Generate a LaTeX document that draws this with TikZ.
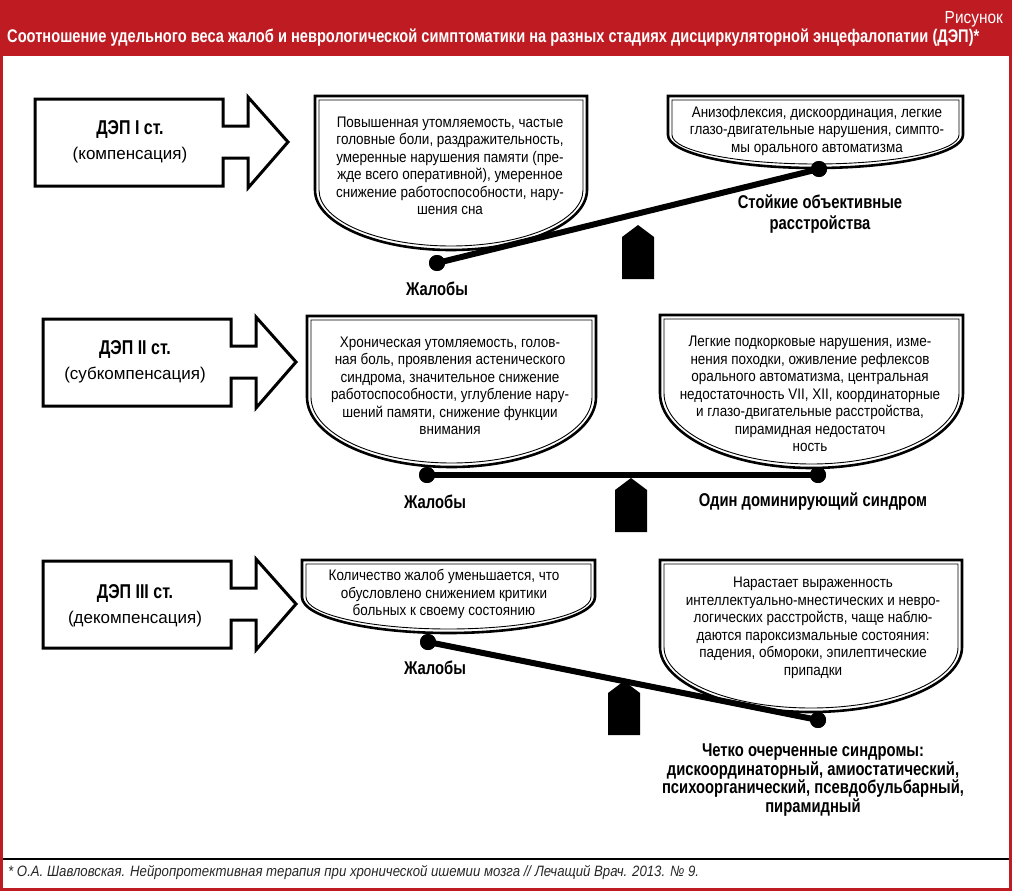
\documentclass[tikz,border=0pt]{standalone}
\usepackage{fontspec}
\setmainfont{Liberation Sans}
\newfontfamily\condbold[FakeStretch=0.8]{Liberation Sans Bold}
\newfontfamily\condreg[FakeStretch=0.88]{Liberation Sans}
\newfontfamily\condital[FakeStretch=0.88]{Liberation Sans Italic}
\usepackage{tikz}
\usetikzlibrary{positioning}
\definecolor{headred}{RGB}{190,28,34}

% bowl with a double outline: #1 left, #2 right, #3 top, #4 end of sides, #5 bottom
\newcommand{\bowlshape}[5]{%
  \draw[bowlouter] (#1,#3) -- (#2,#3) -- (#2,#4)
    arc[start angle=0, end angle=180, x radius={(#2-#1)/2}, y radius={#5-#4}] -- cycle;
  \draw[bowlinner] ({#1+4},{#3+4}) -- ({#2-4},{#3+4}) -- ({#2-4},#4)
    arc[start angle=0, end angle=180, x radius={(#2-#1)/2-4}, y radius={#5-#4-4}] -- cycle;
}
% fulcrum under a beam: #1 centre x, #2 peak y
\newcommand{\fulcrum}[2]{%
  \fill ({#1-16},{#2+54}) -- ({#1-16},{#2+12}) -- (#1,#2) -- ({#1+16},{#2+12}) -- ({#1+16},{#2+54}) -- cycle;
}
% block arrow for a stage: #1 left x, #2 top y
\newcommand{\stagearrow}[2]{%
  \draw[stageline] (#1,#2) -- ++(188,0) -- ++(0,27) -- ++(25,0) -- ++(0,-29) -- ++(40,45)
    -- ++(-40,46) -- ++(0,-30) -- ++(-25,0) -- ++(0,28) -- ++(-188,0) -- cycle;
}

\begin{document}
\begin{tikzpicture}[x=1pt, y=-1pt,
    bowlouter/.style={draw, fill=white, line width=2.6pt},
    bowlinner/.style={draw, line width=0.9pt},
    stageline/.style={draw, fill=white, line width=3pt, line join=miter},
    beam/.style={line width=6pt},
    dot/.style={circle, fill, inner sep=0pt, minimum size=16pt},
    symptoms/.style={align=center, inner sep=0pt, font=\condreg\fontsize{15.3}{17.5}\selectfont},
    stagelbl/.style={align=center, inner sep=0pt, font=\fontsize{17}{25}\selectfont},
    weightlbl/.style={align=center, inner sep=0pt, font=\condbold\fontsize{18.5}{18.5}\selectfont}
]
\useasboundingbox (0,0) rectangle (1012,891);

% header and frame
\fill[headred] (0,0) rectangle (1012,56);
\draw[headred, line width=3pt] (1.5,56) -- (1.5,889.5) -- (1010.5,889.5) -- (1010.5,56);
\node[anchor=east, text=white, inner sep=0pt, font=\condreg\fontsize{17.5}{17.5}\selectfont] (fig) at (1003,19) {Рисунок};
\node[anchor=west, text=white, inner sep=0pt, font=\condbold\fontsize{18.3}{18.3}\selectfont] (title) at (7,38) {Соотношение удельного веса жалоб и неврологической симптоматики на разных стадиях дисциркуляторной энцефалопатии (ДЭП)*};

% stages
\stagearrow{35}{99}
\stagearrow{43}{319}
\stagearrow{43}{561}
\node[stagelbl] (stage1) at (130,142) {{\condbold\fontsize{20}{25}\selectfont ДЭП I ст.}\\(компенсация)};
\node[stagelbl] (stage2) at (135,362) {{\condbold\fontsize{20}{25}\selectfont ДЭП II ст.}\\(субкомпенсация)};
\node[stagelbl] (stage3) at (135,606) {{\condbold\fontsize{20}{25}\selectfont ДЭП III ст.}\\(декомпенсация)};

% bowls
\bowlshape{315}{587}{96}{190}{250}
\bowlshape{668}{963}{96}{135}{168}
\bowlshape{307}{596}{316}{397}{467}
\bowlshape{660}{963}{315}{393}{468}
\bowlshape{302}{595}{560}{597}{633}
\bowlshape{660}{962}{560}{647}{712}

\node[symptoms] (compl1) at (450,166) {Повышенная утомляемость, частые\\головные боли, раздражительность,\\умеренные нарушения памяти (пре-\\жде всего оперативной), умеренное\\снижение работоспособности, нару-\\шения сна};
\node[symptoms] (signs1) at (817,131) {Анизофлексия, дискоординация, легкие\\глазо-двигательные нарушения, симпто-\\мы орального автоматизма};
\node[symptoms] (compl2) at (450,386) {Хроническая утомляемость, голов-\\ная боль, проявления астенического\\синдрома, значительное снижение\\работоспособности, углубление нару-\\шений памяти, снижение функции\\внимания};
\node[symptoms] (signs2) at (810,394) {Легкие подкорковые нарушения, изме-\\нения походки, оживление рефлексов\\орального автоматизма, центральная\\недостаточность VII, XII, координаторные\\и глазо-двигательные расстройства,\\пирамидная недостаточ\\ность};
\node[symptoms] (compl3) at (444,594) {Количество жалоб уменьшается, что\\обусловлено снижением критики\\больных к своему состоянию};
\node[symptoms] (signs3) at (813,628) {Нарастает выраженность\\интеллектуально-мнестических и невро-\\логических расстройств, чаще наблю-\\даются пароксизмальные состояния:\\падения, обмороки, эпилептические\\припадки};

% balances
\fulcrum{638}{225}
\fulcrum{631}{478}
\fulcrum{624}{681}
\node[dot] (left1) at (437,263) {};
\node[dot] (right1) at (819,169) {};
\node[dot] (left2) at (427,475) {};
\node[dot] (right2) at (818,475) {};
\node[dot] (left3) at (428,642) {};
\node[dot] (right3) at (818,720) {};
\draw[beam] (left1.center) -- (right1.center);
\draw[beam] (left2.center) -- (right2.center);
\draw[beam] (left3.center) -- (right3.center);
\node[dot] at (left1) {};
\node[dot] at (right1) {};
\node[dot] at (left2) {};
\node[dot] at (right2) {};
\node[dot] at (left3) {};
\node[dot] at (right3) {};

\node[weightlbl] (wl1) at (437,289) {Жалобы};
\node[weightlbl, font=\condbold\fontsize{18.5}{21}\selectfont] (wr1) at (820,214) {Стойкие объективные\\расстройства};
\node[weightlbl] (wl2) at (435,502) {Жалобы};
\node[weightlbl] (wr2) at (813,502) {Один доминирующий синдром};
\node[weightlbl] (wl3) at (435,668) {Жалобы};
\node[weightlbl] (wr3) at (813,780) {Четко очерченные синдромы:\\дискоординаторный, амиостатический,\\психоорганический, псевдобульбарный,\\пирамидный};

% footer
\draw[line width=1.2pt] (3,859) -- (1009,859);
\node[anchor=west, inner sep=0pt, text=black!85, font=\condital\fontsize{15}{15}\selectfont] (source) at (8,873) {* О.А. Шавловская. Нейропротективная терапия при хронической ишемии мозга // Лечащий Врач. 2013. №~9.};
\end{tikzpicture}
\end{document}
